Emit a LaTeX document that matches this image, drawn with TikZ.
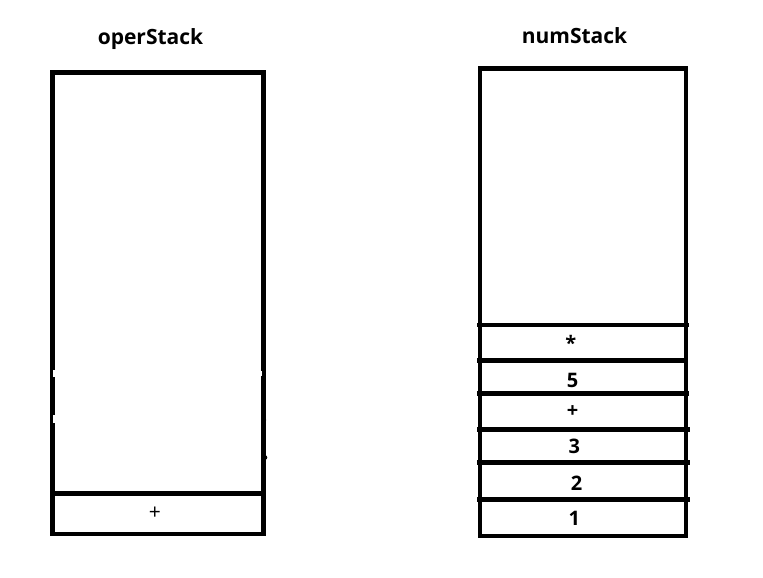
\documentclass[tikz,border=0pt]{standalone}
\usepackage{fontspec}
\setmainfont{Open Sans}
\begin{document}
\begin{tikzpicture}[x=1pt,y=-1pt,
  frame/.style={draw=black,line width=4.5pt},
  sep/.style={draw=black,line width=4.5pt},
  title/.style={font=\fontsize{21}{24}\selectfont\bfseries,anchor=base,inner sep=0pt},
  cell/.style={font=\fontsize{20}{22}\selectfont\bfseries,inner sep=0pt},
  opcell/.style={font=\fontsize{21}{23}\selectfont,inner sep=0pt}]
\useasboundingbox (0,0) rectangle (763,578);
% titles
\node[title] (t1) at (150.5,45) {operStack};
\node[title] (t2) at (574.5,43.5) {numStack};
% operStack
\draw[frame] (52.5,72.5) rectangle (263.5,534);
\draw[sep] (52.5,493.7) -- (263.5,493.7);
\node[opcell] (o1) at (155,513.5) {+};
% small artefacts on the operStack edges
\fill[white] (53.4,370) rectangle (55.2,377);
\fill[white] (52.8,415) rectangle (55.2,423);
\fill[white] (261.2,371) rectangle (262.2,376);
\fill[black] (264,420) circle (2.2);
\fill[black] (265,457.5) circle (2.3);
% numStack
\draw[frame] (479.8,68.5) rectangle (685.8,536);
\foreach \yy/\xe in {325/688.5, 360.7/686, 393.5/688.5, 429.5/690, 462.7/689.5, 499.3/689.5}
  \draw[sep] (477,\yy) -- (\xe,\yy);
\node[cell] (n6) at (570.7,343) {*};
\node[cell] (n5) at (572.7,380) {5};
\node[cell] (n4) at (572.7,411.5) {+};
\node[cell] (n3) at (574.3,446.7) {3};
\node[cell] (n2) at (576.5,483.5) {2};
\node[cell] (n1) at (574.3,518.5) {1};
\end{tikzpicture}
\end{document}
